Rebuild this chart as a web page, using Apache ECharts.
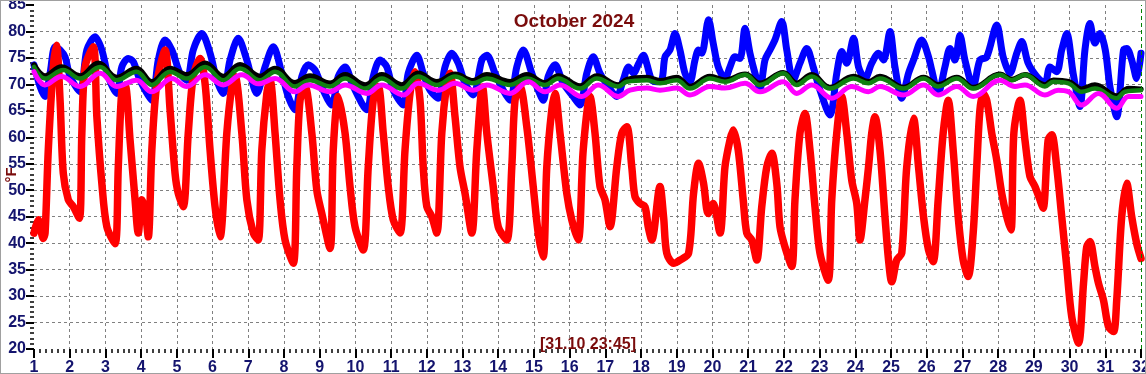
<!DOCTYPE html>
<html>
<head>
<meta charset="utf-8">
<script src="https://cdn.jsdelivr.net/npm/echarts@6/dist/echarts.min.js"></script>
<style>
html,body{margin:0;padding:0;background:#fff;}
#c{width:1146px;height:374px;box-sizing:border-box;border:1px solid #a0a0a0;}
</style>
</head>
<body>
<div id="c"></div>
<script>
// Chart text
const chartTitle = 'October 2024';
const stampLabel = '[31.10 23:45]';
const unitLabel = '°F';

// Axis ranges
const dayMin = 1, dayMax = 32, dayStep = 1;
const tempMin = 20, tempMax = 85, tempStep = 5;
const nowDay = 32;

// Series: [day of month, °F]
const redSeries = [
[1.0,41.9],[1.12,44.4],[1.26,40.9],[1.31,41.9],[1.40,57.6],[1.54,73.3],[1.63,77.4],[1.73,67.0],[1.82,53.2],[1.96,48.2],[2.10,46.9],[2.27,44.7],
[2.34,60.8],[2.43,73.3],[2.66,77.1],[2.76,63.9],[2.90,51.3],[3.04,43.1],[3.27,39.9],[3.36,54.4],[3.46,68.9],[3.55,69.9],[3.69,59.5],[3.83,48.2],
[3.92,41.9],[4.02,48.2],[4.11,46.3],[4.20,41.2],[4.30,57.6],[4.44,70.2],[4.67,76.5],[4.81,65.2],[4.95,53.2],[5.04,49.4],[5.18,46.9],[5.32,60.8],
[5.46,71.5],[5.65,74.9],[5.79,70.2],[5.93,57.6],[6.07,46.9],[6.21,41.2],[6.40,60.8],[6.54,69.6],[6.63,71.5],[6.82,60.8],[6.96,48.2],[7.14,41.9],
[7.28,40.6],[7.38,57.6],[7.52,68.3],[7.61,70.8],[7.75,60.8],[7.89,48.2],[8.03,40.6],[8.26,36.2],[8.36,54.4],[8.45,67.0],[8.59,69.6],[8.78,60.8],
[8.92,50.0],[9.06,45.6],[9.29,39.0],[9.38,57.6],[9.52,67.7],[9.71,60.8],[9.85,50.7],[9.99,43.1],[10.22,38.7],[10.36,54.4],[10.50,67.0],[10.64,69.6],
[10.78,60.8],[10.92,50.7],[11.06,44.4],[11.25,41.9],[11.39,57.6],[11.53,68.3],[11.67,72.4],[11.81,67.0],[11.90,54.4],[12.00,46.9],[12.14,45.0],[12.28,41.9],
[12.42,60.8],[12.56,70.2],[12.65,72.1],[12.79,63.9],[12.93,54.4],[13.07,49.4],[13.26,41.9],[13.40,57.6],[13.56,69.5],[13.68,60.8],[13.86,50.7],[14.00,43.1],
[14.24,40.6],[14.38,54.4],[14.47,67.0],[14.61,69.6],[14.80,62.0],[14.98,50.7],[15.12,41.9],[15.26,37.4],[15.36,54.4],[15.50,65.2],[15.59,68.3],[15.73,60.8],
[15.92,49.4],[16.06,44.4],[16.24,40.6],[16.38,57.6],[16.57,67.7],[16.71,60.8],[16.85,50.7],[16.99,48.2],[17.13,43.1],[17.32,54.4],[17.46,60.8],[17.60,62.0],
[17.74,54.4],[17.83,48.8],[17.97,47.5],[18.11,46.9],[18.20,43.1],[18.30,40.6],[18.53,50.7],[18.63,45.0],[18.72,38.1],[18.91,36.2],[19.09,36.8],[19.33,38.1],
[19.47,49.4],[19.61,55.1],[19.75,51.3],[19.88,45.6],[20.02,47.5],[20.21,41.9],[20.35,54.4],[20.49,59.5],[20.58,61.4],[20.72,57.6],[20.86,48.2],[20.96,41.9],
[21.10,40.6],[21.24,36.8],[21.38,46.9],[21.52,54.4],[21.66,57.0],[21.80,51.3],[21.89,43.1],[22.03,39.3],[22.22,35.6],[22.31,48.2],[22.45,60.8],[22.59,64.5],
[22.73,57.6],[22.87,46.9],[23.01,38.1],[23.24,33.0],[23.34,48.2],[23.48,60.8],[23.62,67.7],[23.76,60.8],[23.90,51.9],[24.04,47.5],[24.13,40.6],[24.27,48.2],
[24.37,54.4],[24.46,60.8],[24.55,63.9],[24.69,57.6],[24.83,45.0],[24.93,36.8],[25.02,32.7],[25.16,36.8],[25.30,38.1],[25.44,54.4],[25.63,63.6],[25.77,54.4],
[25.91,45.0],[26.05,38.7],[26.18,36.5],[26.32,48.2],[26.46,60.8],[26.60,67.0],[26.74,57.6],[26.88,45.0],[27.02,36.8],[27.16,33.7],[27.30,41.9],[27.40,54.4],
[27.49,65.2],[27.58,68.3],[27.68,67.0],[27.82,60.8],[27.96,55.7],[28.10,49.4],[28.24,45.0],[28.36,42.5],[28.44,60.8],[28.61,67.0],[28.75,59.5],[28.89,52.6],
[29.03,50.7],[29.17,48.2],[29.26,46.6],[29.40,59.5],[29.50,60.5],[29.64,54.4],[29.78,45.0],[29.92,35.6],[30.06,26.1],[30.25,21.1],[30.39,32.4],[30.48,39.3],
[30.57,40.3],[30.71,35.6],[30.81,32.4],[30.95,29.2],[31.09,24.2],[31.23,23.3],[31.32,29.2],[31.46,45.0],[31.60,51.3],[31.74,45.0],[31.88,39.9],[32.0,37.1]
];

const blueSeries = [
[1.0,73.7],[1.17,69.6],[1.31,67.7],[1.45,72.1],[1.59,77.1],[1.73,76.5],[1.87,75.2],[2.01,71.5],[2.29,68.6],[2.48,76.5],[2.71,79.0],[2.90,76.5],
[3.08,71.5],[3.32,68.3],[3.46,73.3],[3.64,74.9],[3.78,74.3],[3.97,70.8],[4.30,67.0],[4.48,74.6],[4.67,78.4],[4.86,76.5],[5.09,72.1],[5.28,70.8],
[5.46,76.5],[5.70,79.6],[5.93,75.9],[6.12,70.8],[6.30,68.3],[6.49,74.6],[6.72,78.7],[6.96,74.6],[7.24,68.3],[7.47,73.3],[7.70,77.1],[7.94,72.1],
[8.12,67.7],[8.31,65.2],[8.50,71.5],[8.68,73.7],[8.87,72.7],[9.10,68.9],[9.34,66.1],[9.52,71.5],[9.71,73.3],[9.94,69.6],[10.32,65.2],[10.50,71.5],
[10.69,74.6],[10.88,73.3],[11.06,68.9],[11.34,66.1],[11.48,72.1],[11.72,75.5],[11.90,72.1],[12.09,68.9],[12.32,67.4],[12.51,73.3],[12.70,75.9],[12.88,74.0],
[13.07,70.2],[13.30,68.0],[13.54,74.6],[13.68,75.5],[13.91,72.1],[14.14,68.9],[14.33,67.0],[14.52,73.3],[14.70,76.5],[14.94,72.1],[15.12,68.9],[15.26,67.0],
[15.40,71.5],[15.59,73.7],[15.82,70.2],[16.10,67.7],[16.29,66.1],[16.48,72.1],[16.66,75.2],[16.85,72.1],[17.08,69.6],[17.32,67.7],[17.50,70.8],[17.65,73.3],
[17.79,72.1],[17.93,73.9],[18.07,75.5],[18.16,73.9],[18.30,70.8],[18.44,70.5],[18.58,70.8],[18.67,75.2],[18.81,76.5],[18.95,79.6],[19.09,76.5],[19.23,72.1],
[19.37,70.5],[19.51,74.6],[19.61,76.5],[19.70,75.9],[19.89,82.2],[20.02,77.8],[20.16,73.3],[20.35,71.1],[20.49,73.3],[20.63,75.2],[20.77,74.9],[20.91,80.6],
[21.05,75.9],[21.19,72.1],[21.33,69.2],[21.47,74.6],[21.61,76.5],[21.75,78.4],[21.94,81.9],[22.08,76.5],[22.26,70.8],[22.45,74.0],[22.64,76.8],[22.82,73.3],
[23.01,68.9],[23.29,64.2],[23.48,72.1],[23.62,76.2],[23.76,74.0],[23.95,78.7],[24.09,73.3],[24.27,71.1],[24.46,74.0],[24.65,75.9],[24.79,74.6],[24.97,80.0],
[25.11,73.3],[25.30,67.4],[25.49,72.1],[25.63,74.6],[25.86,78.4],[26.05,75.2],[26.14,72.7],[26.32,68.3],[26.51,73.3],[26.65,76.8],[26.79,74.6],[26.93,79.3],
[27.07,74.6],[27.30,69.6],[27.49,74.6],[27.68,75.2],[27.96,81.2],[28.14,75.2],[28.33,72.1],[28.52,75.9],[28.66,78.1],[28.84,74.0],[29.08,71.5],[29.31,70.2],
[29.45,73.3],[29.64,72.4],[29.78,76.5],[29.92,79.6],[30.10,72.1],[30.29,65.8],[30.43,76.5],[30.57,81.5],[30.71,77.8],[30.85,79.6],[31.00,76.5],[31.13,69.6],
[31.32,63.9],[31.51,76.5],[31.60,76.8],[31.74,74.6],[31.88,71.1],[32.0,75.9]
];

const blackSeries = [
[1.0,73.7],[1.31,71.6],[1.77,73.3],[2.29,71.6],[2.80,74.0],[3.32,71.3],[3.87,73.0],[4.30,70.5],[4.81,73.0],[5.28,71.8],[5.79,74.0],[6.30,71.5],[6.77,73.7],
[7.33,71.5],[7.75,73.0],[8.31,70.3],[8.73,71.6],[9.29,70.2],[9.71,71.8],[10.27,69.9],[10.74,71.8],[11.30,69.9],[11.76,72.1],[12.28,70.5],[12.79,71.9],[13.30,70.7],
[13.68,71.8],[14.33,70.5],[14.80,71.8],[15.31,70.3],[15.68,71.6],[16.29,69.7],[16.76,71.6],[17.36,69.9],[17.60,70.9],[18.16,71.3],[18.53,70.7],[19.0,71.3],[19.37,69.6],[19.93,71.5],
[20.35,70.8],[20.91,71.9],[21.33,70.2],[21.98,72.2],[22.36,70.2],[22.78,71.8],[23.29,69.4],[23.95,71.5],[24.37,70.5],[24.69,71.5],[25.35,69.4],[25.91,71.3],
[26.32,69.9],[26.84,71.3],[27.30,69.4],[28.05,71.9],[28.38,70.9],[28.75,71.8],[29.31,69.9],[29.55,70.8],[29.97,70.5],[30.34,69.1],[30.71,69.9],[31.32,67.8],[31.65,69.2],[32.0,69.1]
];

const greenSeries = [
[1.0,73.3],[1.31,71.1],[1.82,72.7],[2.29,71.1],[2.85,73.3],[3.32,70.8],[3.87,72.4],[4.30,69.9],[4.81,72.4],[5.28,71.1],[5.79,73.3],[6.30,70.8],[6.77,73.0],
[7.33,70.8],[7.75,72.4],[8.31,69.6],[8.73,70.8],[9.29,69.6],[9.71,71.1],[10.27,69.2],[10.74,71.1],[11.30,69.2],[11.76,71.5],[12.28,69.9],[12.79,71.5],[13.30,70.2],
[13.68,71.1],[14.33,69.9],[14.80,71.1],[15.31,69.9],[15.68,71.1],[16.29,69.2],[16.76,71.1],[17.36,69.6],[17.60,70.5],[18.16,70.8],[18.53,70.2],[19.0,70.8],[19.37,69.2],[19.93,71.1],
[20.35,70.5],[20.91,71.8],[21.33,69.9],[21.98,72.1],[22.36,69.9],[22.78,71.5],[23.29,69.2],[23.95,71.1],[24.37,70.2],[24.69,71.1],[25.35,69.2],[25.91,71.1],
[26.32,69.6],[26.84,71.1],[27.30,69.2],[28.05,71.8],[28.38,70.8],[28.75,71.8],[29.31,69.6],[29.55,70.5],[29.97,70.2],[30.34,68.6],[30.71,69.2],[31.32,67.4],[31.55,68.6],[32.0,68.9]
];

const magentaSeries = [
[1.0,72.4],[1.31,69.9],[1.77,71.5],[2.29,69.6],[2.85,72.1],[3.32,69.6],[3.87,70.8],[4.30,68.6],[4.86,71.1],[5.28,69.6],[5.79,71.8],[6.30,69.9],[6.82,71.8],
[7.28,70.1],[7.75,71.1],[8.31,68.6],[8.68,69.9],[9.29,68.6],[9.71,69.9],[10.32,68.3],[10.74,69.9],[11.34,68.0],[11.76,70.2],[12.32,68.9],[12.79,70.2],[13.30,68.9],
[13.68,69.9],[14.33,68.3],[14.84,70.5],[15.31,68.6],[15.73,69.9],[16.34,67.7],[16.80,69.9],[17.36,67.7],[17.69,68.9],[18.16,69.3],[18.53,68.9],[19.0,69.3],[19.37,68.0],[19.93,69.6],
[20.35,69.3],[20.91,70.2],[21.33,68.6],[21.98,70.5],[22.36,68.3],[22.78,69.9],[23.34,67.4],[23.90,69.6],[24.37,68.6],[24.69,69.6],[25.35,68.0],[25.91,69.9],
[26.32,68.0],[26.84,69.6],[27.30,67.7],[28.05,70.8],[28.47,69.6],[28.75,69.9],[29.31,68.0],[29.68,68.9],[29.97,68.6],[30.34,66.1],[30.81,68.3],[31.32,65.5],[31.65,67.7],[32.0,67.7]
];

const navy = '#14146e';
const darkRed = '#7a0c0c';

const chart = echarts.init(document.getElementById('c'), null, {renderer: 'canvas'});

function line(name, data, color, width, smooth, z) {
  return {
    name: name, type: 'line', data: data, symbol: 'none', smooth: smooth,
    lineStyle: {color: color, width: width, cap: 'round', join: 'round'},
    z: z, animation: false
  };
}

const series = [
  line('blue', blueSeries, '#0000ff', 7, 0.3, 2),
  line('red', redSeries, '#ff0000', 7.5, 0.3, 3),
  line('black', blackSeries, '#000000', 5.5, 0.4, 4),
  line('green', greenSeries, '#108010', 4.5, 0.4, 5),
  line('magenta', magentaSeries, '#ff00ff', 5, 0.4, 6)
];
series[0].markLine = {
  silent: true, symbol: 'none', animation: false,
  label: {show: false},
  lineStyle: {color: '#008000', type: [4, 3], width: 1},
  data: [{xAxis: nowDay}]
};

chart.setOption({
  animation: false,
  backgroundColor: '#ffffff',
  grid: {left: 33, right: 4, top: 4, bottom: 24, containLabel: false, outerBoundsMode: 'none'},
  xAxis: {
    type: 'value', min: dayMin, max: dayMax, interval: dayStep,
    axisLine: {show: false},
    axisTick: {show: true, length: 9, lineStyle: {color: '#000', width: 2}},
    minorTick: {show: true, splitNumber: 6, length: 4, lineStyle: {color: '#000', width: 1.5}},
    axisLabel: {color: navy, fontFamily: 'Liberation Sans, Arial', fontWeight: 'bold', fontSize: 16, margin: 11, hideOverlap: false},
    splitLine: {show: true, showMinLine: false, showMaxLine: false, lineStyle: {color: '#808080', type: [3, 3], width: 1}}
  },
  yAxis: {
    type: 'value', min: tempMin, max: tempMax, interval: tempStep,
    axisLine: {show: false},
    axisTick: {show: true, length: 8, lineStyle: {color: '#000', width: 2}},
    minorTick: {show: true, splitNumber: 5, length: 4, lineStyle: {color: '#000', width: 1.5}},
    axisLabel: {color: navy, fontFamily: 'Liberation Sans, Arial', fontWeight: 'bold', fontSize: 16, margin: 8},
    splitLine: {show: true, showMinLine: false, showMaxLine: false, lineStyle: {color: '#808080', type: [3, 3], width: 1}}
  },
  graphic: [
    {type: 'text', x: 573, y: 21, style: {text: chartTitle, fill: darkRed, font: 'bold 19px "Liberation Sans", Arial', align: 'center', verticalAlign: 'middle'}, z: 100},
    {type: 'text', x: 587, y: 344, style: {text: stampLabel, fill: darkRed, font: 'bold 16px "Liberation Sans", Arial', align: 'center', verticalAlign: 'middle'}, z: 100},
    {type: 'text', x: 11, y: 174, rotation: Math.PI / 2, style: {text: unitLabel, fill: darkRed, font: 'bold 15px "Liberation Sans", Arial', align: 'center', verticalAlign: 'middle'}, z: 100}
  ],
  series: series
});
</script>
</body>
</html>
